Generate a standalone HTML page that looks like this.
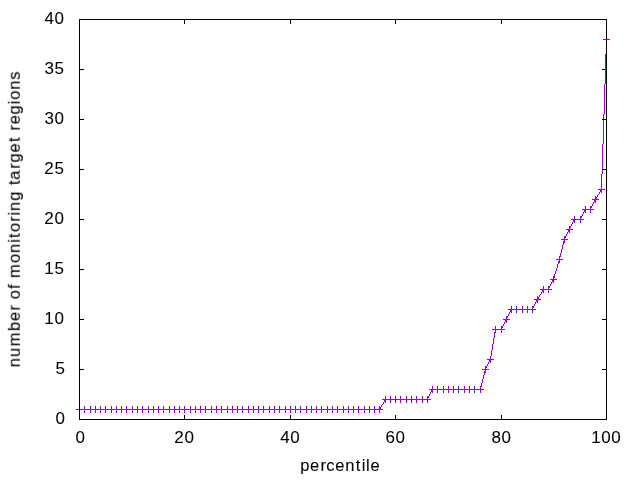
<!DOCTYPE html>
<html><head><meta charset="utf-8"><style>
html,body{margin:0;padding:0;background:#fff;overflow:hidden;}
svg{display:block;}
text{font-family:"Liberation Sans", sans-serif;}
</style></head><body>
<svg width="640" height="480" viewBox="0 0 640 480">
<rect width="640" height="480" fill="#fff"/>
<path d="M606 36h1v1h-1zM606 37h1v1h-1zM606 38h1v1h-1zM603 39h7v1h-7zM606 40h1v1h-1zM606 41h1v1h-1zM606 42h1v1h-1zM606 43h1v1h-1zM606 44h1v1h-1zM606 45h1v1h-1zM606 46h1v1h-1zM606 47h1v1h-1zM606 48h1v1h-1zM606 49h1v1h-1zM606 50h1v1h-1zM606 51h1v1h-1zM606 52h1v1h-1zM606 53h1v1h-1zM605 54h1v1h-1zM605 55h1v1h-1zM605 56h1v1h-1zM605 57h1v1h-1zM605 58h1v1h-1zM605 59h1v1h-1zM605 60h1v1h-1zM605 61h1v1h-1zM605 62h1v1h-1zM605 63h1v1h-1zM605 64h1v1h-1zM605 65h1v1h-1zM605 66h1v1h-1zM605 67h1v1h-1zM605 68h1v1h-1zM605 69h1v1h-1zM605 70h1v1h-1zM605 71h1v1h-1zM605 72h1v1h-1zM605 73h1v1h-1zM605 74h1v1h-1zM605 75h1v1h-1zM605 76h1v1h-1zM605 77h1v1h-1zM605 78h1v1h-1zM605 79h1v1h-1zM605 80h1v1h-1zM605 81h1v1h-1zM605 82h1v1h-1zM605 83h1v1h-1zM604 84h1v1h-1zM604 85h1v1h-1zM604 86h1v1h-1zM604 87h1v1h-1zM604 88h1v1h-1zM604 89h1v1h-1zM604 90h1v1h-1zM604 91h1v1h-1zM604 92h1v1h-1zM604 93h1v1h-1zM604 94h1v1h-1zM604 95h1v1h-1zM604 96h1v1h-1zM604 97h1v1h-1zM604 98h1v1h-1zM604 99h1v1h-1zM604 100h1v1h-1zM604 101h1v1h-1zM604 102h1v1h-1zM604 103h1v1h-1zM604 104h1v1h-1zM604 105h1v1h-1zM604 106h1v1h-1zM604 107h1v1h-1zM604 108h1v1h-1zM604 109h1v1h-1zM604 110h1v1h-1zM604 111h1v1h-1zM604 112h1v1h-1zM604 113h1v1h-1zM603 114h1v1h-1zM603 115h1v1h-1zM603 116h1v1h-1zM603 117h1v1h-1zM603 118h1v1h-1zM603 119h1v1h-1zM603 120h1v1h-1zM603 121h1v1h-1zM603 122h1v1h-1zM603 123h1v1h-1zM603 124h1v1h-1zM603 125h1v1h-1zM603 126h1v1h-1zM603 127h1v1h-1zM603 128h1v1h-1zM603 129h1v1h-1zM603 130h1v1h-1zM603 131h1v1h-1zM603 132h1v1h-1zM603 133h1v1h-1zM603 134h1v1h-1zM603 135h1v1h-1zM603 136h1v1h-1zM603 137h1v1h-1zM603 138h1v1h-1zM603 139h1v1h-1zM603 140h1v1h-1zM603 141h1v1h-1zM603 142h1v1h-1zM603 143h1v1h-1zM602 144h1v1h-1zM602 145h1v1h-1zM602 146h1v1h-1zM602 147h1v1h-1zM602 148h1v1h-1zM602 149h1v1h-1zM602 150h1v1h-1zM602 151h1v1h-1zM602 152h1v1h-1zM602 153h1v1h-1zM602 154h1v1h-1zM602 155h1v1h-1zM602 156h1v1h-1zM602 157h1v1h-1zM602 158h1v1h-1zM602 159h1v1h-1zM602 160h1v1h-1zM602 161h1v1h-1zM602 162h1v1h-1zM602 163h1v1h-1zM602 164h1v1h-1zM602 165h1v1h-1zM602 166h1v1h-1zM602 167h1v1h-1zM602 168h1v1h-1zM602 169h1v1h-1zM602 170h1v1h-1zM602 171h1v1h-1zM602 172h1v1h-1zM602 173h1v1h-1zM601 174h1v1h-1zM601 175h1v1h-1zM601 176h1v1h-1zM601 177h1v1h-1zM601 178h1v1h-1zM601 179h1v1h-1zM601 180h1v1h-1zM601 181h1v1h-1zM601 182h1v1h-1zM601 183h1v1h-1zM601 184h1v1h-1zM601 185h1v1h-1zM601 186h1v1h-1zM601 187h1v1h-1zM601 188h1v1h-1zM598 189h7v1h-7zM600 190h2v1h-2zM600 191h2v1h-2zM599 192h1v1h-1zM601 192h1v1h-1zM599 193h1v1h-1zM598 194h1v1h-1zM597 195h1v1h-1zM595 196h1v1h-1zM597 196h1v1h-1zM595 197h2v1h-2zM595 198h2v1h-2zM592 199h7v1h-7zM594 200h2v1h-2zM594 201h2v1h-2zM593 202h1v1h-1zM595 202h1v1h-1zM593 203h1v1h-1zM592 204h1v1h-1zM592 205h1v1h-1zM585 206h1v1h-1zM590 206h2v1h-2zM585 207h1v1h-1zM590 207h2v1h-2zM585 208h1v1h-1zM590 208h1v1h-1zM582 209h12v1h-12zM584 210h2v1h-2zM590 210h1v1h-1zM584 211h2v1h-2zM590 211h1v1h-1zM583 212h1v1h-1zM585 212h1v1h-1zM590 212h1v1h-1zM583 213h1v1h-1zM582 214h1v1h-1zM582 215h1v1h-1zM574 216h1v1h-1zM580 216h2v1h-2zM574 217h1v1h-1zM580 217h2v1h-2zM574 218h1v1h-1zM580 218h1v1h-1zM571 219h13v1h-13zM573 220h2v1h-2zM580 220h1v1h-1zM573 221h2v1h-2zM580 221h1v1h-1zM572 222h1v1h-1zM574 222h1v1h-1zM580 222h1v1h-1zM572 223h1v1h-1zM571 224h1v1h-1zM571 225h1v1h-1zM569 226h2v1h-2zM569 227h2v1h-2zM569 228h1v1h-1zM566 229h7v1h-7zM568 230h2v1h-2zM568 231h2v1h-2zM567 232h1v1h-1zM569 232h1v1h-1zM567 233h1v1h-1zM566 234h1v1h-1zM566 235h1v1h-1zM564 236h2v1h-2zM564 237h2v1h-2zM564 238h1v1h-1zM561 239h7v1h-7zM564 240h1v1h-1zM563 241h2v1h-2zM563 242h2v1h-2zM563 243h1v1h-1zM563 244h1v1h-1zM562 245h1v1h-1zM562 246h1v1h-1zM562 247h1v1h-1zM562 248h1v1h-1zM561 249h1v1h-1zM561 250h1v1h-1zM561 251h1v1h-1zM561 252h1v1h-1zM560 253h1v1h-1zM560 254h1v1h-1zM560 255h1v1h-1zM559 256h2v1h-2zM559 257h1v1h-1zM559 258h1v1h-1zM556 259h7v1h-7zM559 260h1v1h-1zM558 261h2v1h-2zM558 262h2v1h-2zM558 263h1v1h-1zM557 264h1v1h-1zM557 265h1v1h-1zM557 266h1v1h-1zM557 267h1v1h-1zM556 268h1v1h-1zM556 269h1v1h-1zM556 270h1v1h-1zM555 271h1v1h-1zM555 272h1v1h-1zM555 273h1v1h-1zM554 274h1v1h-1zM554 275h1v1h-1zM553 276h2v1h-2zM553 277h2v1h-2zM553 278h1v1h-1zM550 279h7v1h-7zM552 280h2v1h-2zM552 281h2v1h-2zM551 282h1v1h-1zM553 282h1v1h-1zM551 283h1v1h-1zM550 284h1v1h-1zM550 285h1v1h-1zM543 286h1v1h-1zM548 286h2v1h-2zM543 287h1v1h-1zM548 287h2v1h-2zM543 288h1v1h-1zM548 288h1v1h-1zM540 289h12v1h-12zM542 290h2v1h-2zM548 290h1v1h-1zM542 291h2v1h-2zM548 291h1v1h-1zM541 292h1v1h-1zM543 292h1v1h-1zM548 292h1v1h-1zM541 293h1v1h-1zM540 294h1v1h-1zM539 295h1v1h-1zM537 296h1v1h-1zM539 296h1v1h-1zM537 297h2v1h-2zM537 298h2v1h-2zM534 299h7v1h-7zM536 300h2v1h-2zM536 301h2v1h-2zM535 302h1v1h-1zM537 302h1v1h-1zM535 303h1v1h-1zM534 304h1v1h-1zM534 305h1v1h-1zM511 306h1v1h-1zM516 306h1v1h-1zM522 306h1v1h-1zM527 306h1v1h-1zM532 306h2v1h-2zM511 307h1v1h-1zM516 307h1v1h-1zM522 307h1v1h-1zM527 307h1v1h-1zM532 307h2v1h-2zM511 308h1v1h-1zM516 308h1v1h-1zM522 308h1v1h-1zM527 308h1v1h-1zM532 308h1v1h-1zM508 309h28v1h-28zM510 310h2v1h-2zM516 310h1v1h-1zM522 310h1v1h-1zM527 310h1v1h-1zM532 310h1v1h-1zM510 311h2v1h-2zM516 311h1v1h-1zM522 311h1v1h-1zM527 311h1v1h-1zM532 311h1v1h-1zM509 312h1v1h-1zM511 312h1v1h-1zM516 312h1v1h-1zM522 312h1v1h-1zM527 312h1v1h-1zM532 312h1v1h-1zM509 313h1v1h-1zM508 314h1v1h-1zM508 315h1v1h-1zM506 316h2v1h-2zM506 317h2v1h-2zM506 318h1v1h-1zM503 319h7v1h-7zM505 320h2v1h-2zM505 321h2v1h-2zM504 322h1v1h-1zM506 322h1v1h-1zM504 323h1v1h-1zM503 324h1v1h-1zM503 325h1v1h-1zM495 326h1v1h-1zM501 326h2v1h-2zM495 327h1v1h-1zM501 327h2v1h-2zM495 328h1v1h-1zM501 328h1v1h-1zM492 329h13v1h-13zM495 330h1v1h-1zM501 330h1v1h-1zM495 331h1v1h-1zM501 331h1v1h-1zM494 332h2v1h-2zM501 332h1v1h-1zM494 333h1v1h-1zM494 334h1v1h-1zM494 335h1v1h-1zM494 336h1v1h-1zM494 337h1v1h-1zM493 338h1v1h-1zM493 339h1v1h-1zM493 340h1v1h-1zM493 341h1v1h-1zM493 342h1v1h-1zM493 343h1v1h-1zM492 344h1v1h-1zM492 345h1v1h-1zM492 346h1v1h-1zM492 347h1v1h-1zM492 348h1v1h-1zM492 349h1v1h-1zM491 350h1v1h-1zM491 351h1v1h-1zM491 352h1v1h-1zM491 353h1v1h-1zM491 354h1v1h-1zM491 355h1v1h-1zM490 356h1v1h-1zM490 357h1v1h-1zM490 358h1v1h-1zM487 359h7v1h-7zM489 360h2v1h-2zM489 361h2v1h-2zM488 362h1v1h-1zM490 362h1v1h-1zM488 363h1v1h-1zM487 364h1v1h-1zM487 365h1v1h-1zM485 366h2v1h-2zM485 367h2v1h-2zM485 368h1v1h-1zM482 369h7v1h-7zM485 370h1v1h-1zM484 371h2v1h-2zM484 372h2v1h-2zM484 373h1v1h-1zM484 374h1v1h-1zM483 375h1v1h-1zM483 376h1v1h-1zM483 377h1v1h-1zM483 378h1v1h-1zM482 379h1v1h-1zM482 380h1v1h-1zM482 381h1v1h-1zM482 382h1v1h-1zM481 383h1v1h-1zM481 384h1v1h-1zM481 385h1v1h-1zM432 386h1v1h-1zM437 386h1v1h-1zM443 386h1v1h-1zM448 386h1v1h-1zM453 386h1v1h-1zM458 386h1v1h-1zM464 386h1v1h-1zM469 386h1v1h-1zM474 386h1v1h-1zM480 386h2v1h-2zM432 387h1v1h-1zM437 387h1v1h-1zM443 387h1v1h-1zM448 387h1v1h-1zM453 387h1v1h-1zM458 387h1v1h-1zM464 387h1v1h-1zM469 387h1v1h-1zM474 387h1v1h-1zM480 387h1v1h-1zM432 388h1v1h-1zM437 388h1v1h-1zM443 388h1v1h-1zM448 388h1v1h-1zM453 388h1v1h-1zM458 388h1v1h-1zM464 388h1v1h-1zM469 388h1v1h-1zM474 388h1v1h-1zM480 388h1v1h-1zM429 389h55v1h-55zM431 390h2v1h-2zM437 390h1v1h-1zM443 390h1v1h-1zM448 390h1v1h-1zM453 390h1v1h-1zM458 390h1v1h-1zM464 390h1v1h-1zM469 390h1v1h-1zM474 390h1v1h-1zM480 390h1v1h-1zM431 391h2v1h-2zM437 391h1v1h-1zM443 391h1v1h-1zM448 391h1v1h-1zM453 391h1v1h-1zM458 391h1v1h-1zM464 391h1v1h-1zM469 391h1v1h-1zM474 391h1v1h-1zM480 391h1v1h-1zM430 392h1v1h-1zM432 392h1v1h-1zM437 392h1v1h-1zM443 392h1v1h-1zM448 392h1v1h-1zM453 392h1v1h-1zM458 392h1v1h-1zM464 392h1v1h-1zM469 392h1v1h-1zM474 392h1v1h-1zM480 392h1v1h-1zM430 393h1v1h-1zM429 394h1v1h-1zM429 395h1v1h-1zM385 396h1v1h-1zM390 396h1v1h-1zM395 396h1v1h-1zM400 396h1v1h-1zM406 396h1v1h-1zM411 396h1v1h-1zM416 396h1v1h-1zM422 396h1v1h-1zM427 396h2v1h-2zM385 397h1v1h-1zM390 397h1v1h-1zM395 397h1v1h-1zM400 397h1v1h-1zM406 397h1v1h-1zM411 397h1v1h-1zM416 397h1v1h-1zM422 397h1v1h-1zM427 397h2v1h-2zM385 398h1v1h-1zM390 398h1v1h-1zM395 398h1v1h-1zM400 398h1v1h-1zM406 398h1v1h-1zM411 398h1v1h-1zM416 398h1v1h-1zM422 398h1v1h-1zM427 398h1v1h-1zM382 399h49v1h-49zM384 400h2v1h-2zM390 400h1v1h-1zM395 400h1v1h-1zM400 400h1v1h-1zM406 400h1v1h-1zM411 400h1v1h-1zM416 400h1v1h-1zM422 400h1v1h-1zM427 400h1v1h-1zM384 401h2v1h-2zM390 401h1v1h-1zM395 401h1v1h-1zM400 401h1v1h-1zM406 401h1v1h-1zM411 401h1v1h-1zM416 401h1v1h-1zM422 401h1v1h-1zM427 401h1v1h-1zM383 402h1v1h-1zM385 402h1v1h-1zM390 402h1v1h-1zM395 402h1v1h-1zM400 402h1v1h-1zM406 402h1v1h-1zM411 402h1v1h-1zM416 402h1v1h-1zM422 402h1v1h-1zM427 402h1v1h-1zM383 403h1v1h-1zM382 404h1v1h-1zM381 405h1v1h-1zM79 406h1v1h-1zM84 406h1v1h-1zM90 406h1v1h-1zM95 406h1v1h-1zM100 406h1v1h-1zM105 406h1v1h-1zM111 406h1v1h-1zM116 406h1v1h-1zM121 406h1v1h-1zM126 406h1v1h-1zM132 406h1v1h-1zM137 406h1v1h-1zM142 406h1v1h-1zM148 406h1v1h-1zM153 406h1v1h-1zM158 406h1v1h-1zM163 406h1v1h-1zM169 406h1v1h-1zM174 406h1v1h-1zM179 406h1v1h-1zM184 406h1v1h-1zM190 406h1v1h-1zM195 406h1v1h-1zM200 406h1v1h-1zM205 406h1v1h-1zM211 406h1v1h-1zM216 406h1v1h-1zM221 406h1v1h-1zM227 406h1v1h-1zM232 406h1v1h-1zM237 406h1v1h-1zM242 406h1v1h-1zM248 406h1v1h-1zM253 406h1v1h-1zM258 406h1v1h-1zM263 406h1v1h-1zM269 406h1v1h-1zM274 406h1v1h-1zM279 406h1v1h-1zM285 406h1v1h-1zM290 406h1v1h-1zM295 406h1v1h-1zM300 406h1v1h-1zM306 406h1v1h-1zM311 406h1v1h-1zM316 406h1v1h-1zM321 406h1v1h-1zM327 406h1v1h-1zM332 406h1v1h-1zM337 406h1v1h-1zM343 406h1v1h-1zM348 406h1v1h-1zM353 406h1v1h-1zM358 406h1v1h-1zM364 406h1v1h-1zM369 406h1v1h-1zM374 406h1v1h-1zM379 406h1v1h-1zM381 406h1v1h-1zM79 407h1v1h-1zM84 407h1v1h-1zM90 407h1v1h-1zM95 407h1v1h-1zM100 407h1v1h-1zM105 407h1v1h-1zM111 407h1v1h-1zM116 407h1v1h-1zM121 407h1v1h-1zM126 407h1v1h-1zM132 407h1v1h-1zM137 407h1v1h-1zM142 407h1v1h-1zM148 407h1v1h-1zM153 407h1v1h-1zM158 407h1v1h-1zM163 407h1v1h-1zM169 407h1v1h-1zM174 407h1v1h-1zM179 407h1v1h-1zM184 407h1v1h-1zM190 407h1v1h-1zM195 407h1v1h-1zM200 407h1v1h-1zM205 407h1v1h-1zM211 407h1v1h-1zM216 407h1v1h-1zM221 407h1v1h-1zM227 407h1v1h-1zM232 407h1v1h-1zM237 407h1v1h-1zM242 407h1v1h-1zM248 407h1v1h-1zM253 407h1v1h-1zM258 407h1v1h-1zM263 407h1v1h-1zM269 407h1v1h-1zM274 407h1v1h-1zM279 407h1v1h-1zM285 407h1v1h-1zM290 407h1v1h-1zM295 407h1v1h-1zM300 407h1v1h-1zM306 407h1v1h-1zM311 407h1v1h-1zM316 407h1v1h-1zM321 407h1v1h-1zM327 407h1v1h-1zM332 407h1v1h-1zM337 407h1v1h-1zM343 407h1v1h-1zM348 407h1v1h-1zM353 407h1v1h-1zM358 407h1v1h-1zM364 407h1v1h-1zM369 407h1v1h-1zM374 407h1v1h-1zM379 407h2v1h-2zM79 408h1v1h-1zM84 408h1v1h-1zM90 408h1v1h-1zM95 408h1v1h-1zM100 408h1v1h-1zM105 408h1v1h-1zM111 408h1v1h-1zM116 408h1v1h-1zM121 408h1v1h-1zM126 408h1v1h-1zM132 408h1v1h-1zM137 408h1v1h-1zM142 408h1v1h-1zM148 408h1v1h-1zM153 408h1v1h-1zM158 408h1v1h-1zM163 408h1v1h-1zM169 408h1v1h-1zM174 408h1v1h-1zM179 408h1v1h-1zM184 408h1v1h-1zM190 408h1v1h-1zM195 408h1v1h-1zM200 408h1v1h-1zM205 408h1v1h-1zM211 408h1v1h-1zM216 408h1v1h-1zM221 408h1v1h-1zM227 408h1v1h-1zM232 408h1v1h-1zM237 408h1v1h-1zM242 408h1v1h-1zM248 408h1v1h-1zM253 408h1v1h-1zM258 408h1v1h-1zM263 408h1v1h-1zM269 408h1v1h-1zM274 408h1v1h-1zM279 408h1v1h-1zM285 408h1v1h-1zM290 408h1v1h-1zM295 408h1v1h-1zM300 408h1v1h-1zM306 408h1v1h-1zM311 408h1v1h-1zM316 408h1v1h-1zM321 408h1v1h-1zM327 408h1v1h-1zM332 408h1v1h-1zM337 408h1v1h-1zM343 408h1v1h-1zM348 408h1v1h-1zM353 408h1v1h-1zM358 408h1v1h-1zM364 408h1v1h-1zM369 408h1v1h-1zM374 408h1v1h-1zM379 408h2v1h-2zM76 409h307v1h-307zM79 410h1v1h-1zM84 410h1v1h-1zM90 410h1v1h-1zM95 410h1v1h-1zM100 410h1v1h-1zM105 410h1v1h-1zM111 410h1v1h-1zM116 410h1v1h-1zM121 410h1v1h-1zM126 410h1v1h-1zM132 410h1v1h-1zM137 410h1v1h-1zM142 410h1v1h-1zM148 410h1v1h-1zM153 410h1v1h-1zM158 410h1v1h-1zM163 410h1v1h-1zM169 410h1v1h-1zM174 410h1v1h-1zM179 410h1v1h-1zM184 410h1v1h-1zM190 410h1v1h-1zM195 410h1v1h-1zM200 410h1v1h-1zM205 410h1v1h-1zM211 410h1v1h-1zM216 410h1v1h-1zM221 410h1v1h-1zM227 410h1v1h-1zM232 410h1v1h-1zM237 410h1v1h-1zM242 410h1v1h-1zM248 410h1v1h-1zM253 410h1v1h-1zM258 410h1v1h-1zM263 410h1v1h-1zM269 410h1v1h-1zM274 410h1v1h-1zM279 410h1v1h-1zM285 410h1v1h-1zM290 410h1v1h-1zM295 410h1v1h-1zM300 410h1v1h-1zM306 410h1v1h-1zM311 410h1v1h-1zM316 410h1v1h-1zM321 410h1v1h-1zM327 410h1v1h-1zM332 410h1v1h-1zM337 410h1v1h-1zM343 410h1v1h-1zM348 410h1v1h-1zM353 410h1v1h-1zM358 410h1v1h-1zM364 410h1v1h-1zM369 410h1v1h-1zM374 410h1v1h-1zM379 410h1v1h-1zM79 411h1v1h-1zM84 411h1v1h-1zM90 411h1v1h-1zM95 411h1v1h-1zM100 411h1v1h-1zM105 411h1v1h-1zM111 411h1v1h-1zM116 411h1v1h-1zM121 411h1v1h-1zM126 411h1v1h-1zM132 411h1v1h-1zM137 411h1v1h-1zM142 411h1v1h-1zM148 411h1v1h-1zM153 411h1v1h-1zM158 411h1v1h-1zM163 411h1v1h-1zM169 411h1v1h-1zM174 411h1v1h-1zM179 411h1v1h-1zM184 411h1v1h-1zM190 411h1v1h-1zM195 411h1v1h-1zM200 411h1v1h-1zM205 411h1v1h-1zM211 411h1v1h-1zM216 411h1v1h-1zM221 411h1v1h-1zM227 411h1v1h-1zM232 411h1v1h-1zM237 411h1v1h-1zM242 411h1v1h-1zM248 411h1v1h-1zM253 411h1v1h-1zM258 411h1v1h-1zM263 411h1v1h-1zM269 411h1v1h-1zM274 411h1v1h-1zM279 411h1v1h-1zM285 411h1v1h-1zM290 411h1v1h-1zM295 411h1v1h-1zM300 411h1v1h-1zM306 411h1v1h-1zM311 411h1v1h-1zM316 411h1v1h-1zM321 411h1v1h-1zM327 411h1v1h-1zM332 411h1v1h-1zM337 411h1v1h-1zM343 411h1v1h-1zM348 411h1v1h-1zM353 411h1v1h-1zM358 411h1v1h-1zM364 411h1v1h-1zM369 411h1v1h-1zM374 411h1v1h-1zM379 411h1v1h-1zM79 412h1v1h-1zM84 412h1v1h-1zM90 412h1v1h-1zM95 412h1v1h-1zM100 412h1v1h-1zM105 412h1v1h-1zM111 412h1v1h-1zM116 412h1v1h-1zM121 412h1v1h-1zM126 412h1v1h-1zM132 412h1v1h-1zM137 412h1v1h-1zM142 412h1v1h-1zM148 412h1v1h-1zM153 412h1v1h-1zM158 412h1v1h-1zM163 412h1v1h-1zM169 412h1v1h-1zM174 412h1v1h-1zM179 412h1v1h-1zM184 412h1v1h-1zM190 412h1v1h-1zM195 412h1v1h-1zM200 412h1v1h-1zM205 412h1v1h-1zM211 412h1v1h-1zM216 412h1v1h-1zM221 412h1v1h-1zM227 412h1v1h-1zM232 412h1v1h-1zM237 412h1v1h-1zM242 412h1v1h-1zM248 412h1v1h-1zM253 412h1v1h-1zM258 412h1v1h-1zM263 412h1v1h-1zM269 412h1v1h-1zM274 412h1v1h-1zM279 412h1v1h-1zM285 412h1v1h-1zM290 412h1v1h-1zM295 412h1v1h-1zM300 412h1v1h-1zM306 412h1v1h-1zM311 412h1v1h-1zM316 412h1v1h-1zM321 412h1v1h-1zM327 412h1v1h-1zM332 412h1v1h-1zM337 412h1v1h-1zM343 412h1v1h-1zM348 412h1v1h-1zM353 412h1v1h-1zM358 412h1v1h-1zM364 412h1v1h-1zM369 412h1v1h-1zM374 412h1v1h-1zM379 412h1v1h-1z" fill="#9400d3" shape-rendering="crispEdges"/>
<path d="M79.5 419.5H84M606.5 419.5H602M79.5 369.5H84M606.5 369.5H602M79.5 319.5H84M606.5 319.5H602M79.5 269.5H84M606.5 269.5H602M79.5 219.5H84M606.5 219.5H602M79.5 169.5H84M606.5 169.5H602M79.5 119.5H84M606.5 119.5H602M79.5 69.5H84M606.5 69.5H602M79.5 19.5H84M606.5 19.5H602M79.5 419.5V415M79.5 19.5V24M184.5 419.5V415M184.5 19.5V24M290.5 419.5V415M290.5 19.5V24M395.5 419.5V415M395.5 19.5V24M501.5 419.5V415M501.5 19.5V24M606.5 419.5V415M606.5 19.5V24" fill="none" stroke="#000" stroke-width="1"/>
<path d="M79.5 19.5V419.5H606.5V19.5Z" fill="none" stroke="#000" stroke-width="1"/>
<g font-family="Liberation Sans, sans-serif" fill="#000" stroke="#000" stroke-width="0.07" opacity="0.999"><text x="55.46" y="424" font-size="17">0</text><text x="55.40" y="374" font-size="17">5</text><text x="44.37 54.46" y="324" font-size="17">10</text><text x="44.37 54.40" y="274" font-size="17">15</text><text x="44.25 54.46" y="224" font-size="17">20</text><text x="44.25 54.40" y="174" font-size="17">25</text><text x="44.48 54.46" y="124" font-size="17">30</text><text x="44.48 54.40" y="74" font-size="17">35</text><text x="44.46 54.46" y="24" font-size="17">40</text><text x="75.46" y="442.7" font-size="17">0</text><text x="174.25 184.46" y="442.7" font-size="17">20</text><text x="280.36 290.36" y="442.7" font-size="17">40</text><text x="385.53 395.53" y="442.7" font-size="17">60</text><text x="491.46 501.46" y="442.7" font-size="17">80</text><text x="591.27 601.36 611.36" y="442.7" font-size="17">100</text><text x="300.19 310.12 320.46 326.26 335.34 345.34 355.76 361.63 366.07 370.49" y="470.5" font-size="16.5">percentile</text><text transform="translate(19.8,367.75) rotate(-90)" x="0.52 10.67 21.41 36.75 46.76 57.18 62.95 68.39 78.68 83.63 89.72 104.77 114.85 124.95 129.84 135.67 146.09 152.26 156.86 166.95 176.80 182.73 187.97 199.00 205.16 215.37 225.74 231.26 237.24 243.38 253.33 263.57 267.97 278.04 287.90" y="0" font-size="16.5">number of monitoring target regions</text></g>
</svg>
</body></html>
